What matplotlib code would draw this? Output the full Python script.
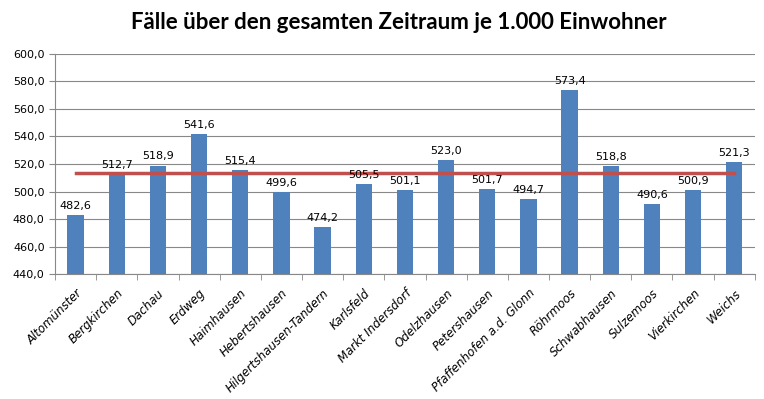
import numpy as np
import matplotlib.pyplot as plt
from matplotlib.ticker import FuncFormatter, FixedLocator

orte = ['Altomünster', 'Bergkirchen', 'Dachau', 'Erdweg', 'Haimhausen', 'Hebertshausen',
        'Hilgertshausen-Tandern', 'Karlsfeld', 'Markt Indersdorf', 'Odelzhausen',
        'Petershausen', 'Pfaffenhofen a.d. Glonn', 'Röhrmoos', 'Schwabhausen',
        'Sulzemoos', 'Vierkirchen', 'Weichs']
faelle = [482.6, 512.7, 518.9, 541.6, 515.4, 499.6, 474.2, 505.5, 501.1, 523.0,
          501.7, 494.7, 573.4, 518.8, 490.6, 500.9, 521.3]
durchschnitt = [513.2] * len(orte)

plt.rcParams['font.family'] = ['DejaVu Sans']

fig = plt.figure(figsize=(7.64, 3.99), dpi=100)
ax = fig.add_axes([0.072, 0.313, 0.916, 0.552])

x = np.arange(len(orte))
ax.bar(x, faelle, width=0.4, color='#4F81BD', zorder=2)
ax.plot(x, durchschnitt, color='#C0504D', linewidth=2.5, zorder=3)

for xi, v in zip(x, faelle):
    ax.text(xi, v + 3, f'{v:.1f}'.replace('.', ','), ha='center', va='bottom', fontsize=8)

ax.set_ylim(440, 600)
ax.set_xlim(-0.5, len(orte) - 0.5)
ax.set_yticks(np.arange(440, 601, 20))
ax.yaxis.set_major_formatter(FuncFormatter(lambda v, p: f'{v:.1f}'.replace('.', ',')))
ax.grid(axis='y', color='#888888', linewidth=0.8, zorder=0)

ax.set_xticks(x)
ax.set_xticklabels(orte, rotation=45, ha='right', rotation_mode='anchor', fontsize=8.5, style='italic')
ax.xaxis.set_minor_locator(FixedLocator(np.arange(-0.5, len(orte), 1)))
ax.tick_params(axis='x', which='major', length=0, pad=9)
ax.tick_params(axis='x', which='minor', length=4, color='#888888')
ax.tick_params(axis='y', length=4, color='#888888', labelsize=8)

for s in ['top', 'right']:
    ax.spines[s].set_visible(False)
for s in ['left', 'bottom']:
    ax.spines[s].set_color('#888888')

fig.suptitle('Fälle über den gesamten Zeitraum je 1.000 Einwohner', fontsize=16, fontweight='bold',
             family='Lato', x=0.522, y=0.97)

fig.savefig('out.png', dpi=100)
